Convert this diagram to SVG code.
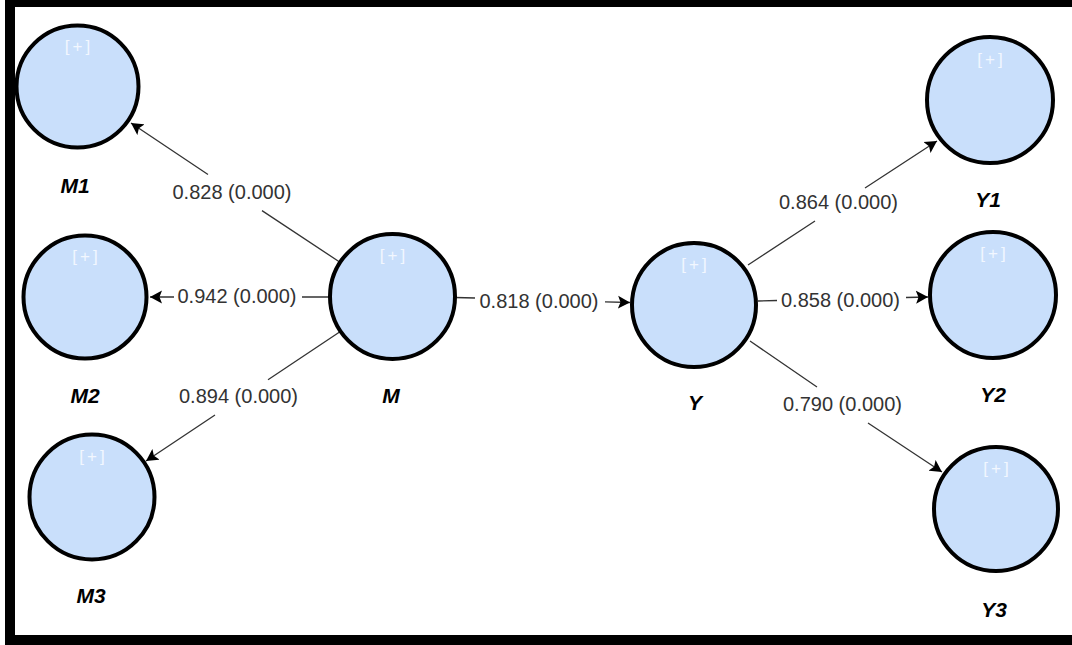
<svg xmlns="http://www.w3.org/2000/svg" width="1072" height="645" viewBox="0 0 1072 645">
<defs>
<style>
.node circle{fill:#c9dffb;stroke:#000;stroke-width:4}
.plus{font-family:"Liberation Sans",Arial,sans-serif;font-size:17px;fill:#f2f7ff;text-anchor:middle;letter-spacing:3px}
.nl{font-family:"Liberation Sans",Arial,sans-serif;font-size:21px;font-weight:bold;font-style:italic;fill:#000;text-anchor:middle}
.el{font-family:"Liberation Sans",Arial,sans-serif;font-size:20px;fill:#333;text-anchor:middle}
.edge{fill:none;stroke:#333;stroke-width:1.3;marker-end:url(#arr)}
</style>
<marker id="arr" markerUnits="userSpaceOnUse" markerWidth="13" markerHeight="14" refX="12" refY="7" orient="auto">
<path d="M0,0.5 L12,7 L0,13.5 L2.5,7 Z" fill="#000"/>
</marker>
</defs>
<rect x="0" y="0" width="1072" height="645" fill="#fff"/>
<g id="frame" fill="#000">
<rect x="5" y="0" width="1067" height="7"/>
<rect x="5" y="0" width="10" height="645"/>
<rect x="5" y="635" width="1067" height="10"/>
</g>
<g id="connectors">
<path class="edge" d="M339.6,262 L262,210.6 M208,174.5 L131,123"/>
<path class="edge" d="M329,297 L302,297 M174,297 L150,297"/>
<path class="edge" d="M339.6,332 L268,379.7 M215,415 L146,461"/>
<path class="edge" d="M455,297.5 L475,298 M605,301.8 L630,302.5"/>
<path class="edge" d="M748,265 L815,221 M865,188 L937,141"/>
<path class="edge" d="M758,301 L777,300.5 M906,297.5 L928,297"/>
<path class="edge" d="M750,341 L817,387 M868,423 L942,472"/>
<text class="el" x="232" y="199">0.828 (0.000)</text>
<text class="el" x="237" y="303">0.942 (0.000)</text>
<text class="el" x="238.5" y="403">0.894 (0.000)</text>
<text class="el" x="539" y="308">0.818 (0.000)</text>
<text class="el" x="838.5" y="209">0.864 (0.000)</text>
<text class="el" x="840.5" y="307">0.858 (0.000)</text>
<text class="el" x="842.5" y="411">0.790 (0.000)</text>
</g>
<g id="M1" class="node"><circle cx="77.5" cy="86.5" r="61"/><text class="plus" x="79" y="52">[+]</text><text class="nl" x="75" y="193">M1</text></g>
<g id="M2" class="node"><circle cx="85" cy="297" r="61.5"/><text class="plus" x="86.5" y="262">[+]</text><text class="nl" x="85" y="403">M2</text></g>
<g id="M3" class="node"><circle cx="92" cy="497" r="62.5"/><text class="plus" x="93.5" y="462">[+]</text><text class="nl" x="91" y="603">M3</text></g>
<g id="M" class="node"><circle cx="392.5" cy="296.5" r="62.5"/><text class="plus" x="394" y="261">[+]</text><text class="nl" x="391" y="403">M</text></g>
<g id="Y" class="node"><circle cx="694" cy="305" r="62"/><text class="plus" x="695.5" y="270">[+]</text><text class="nl" x="695" y="410">Y</text></g>
<g id="Y1" class="node"><circle cx="990" cy="100" r="63"/><text class="plus" x="991.5" y="65">[+]</text><text class="nl" x="988" y="207">Y1</text></g>
<g id="Y2" class="node"><circle cx="993" cy="295" r="63"/><text class="plus" x="994.5" y="259">[+]</text><text class="nl" x="993" y="402">Y2</text></g>
<g id="Y3" class="node"><circle cx="996" cy="509" r="62"/><text class="plus" x="997.5" y="474">[+]</text><text class="nl" x="994" y="617">Y3</text></g>
</svg>
